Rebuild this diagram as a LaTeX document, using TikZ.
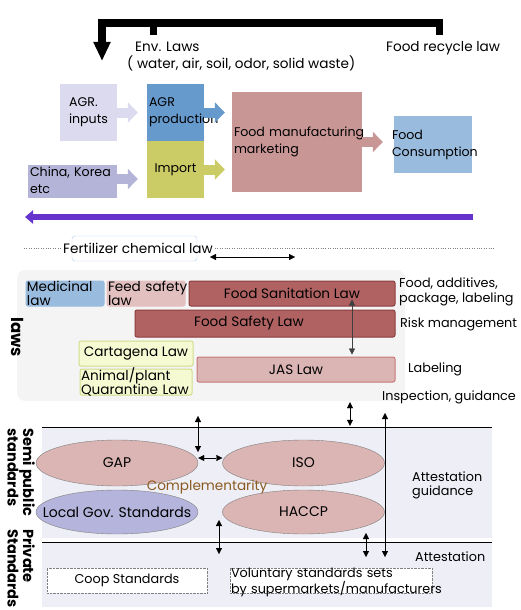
\documentclass[tikz,border=0pt]{standalone}
\usepackage{fontspec}
\setmainfont{Poppins}
\usetikzlibrary{arrows.meta,shapes.geometric}
\definecolor{inputcol}{HTML}{DCDAEE}
\definecolor{prodcol}{HTML}{6699CC}
\definecolor{importcol}{HTML}{CCCC66}
\definecolor{chinacol}{HTML}{B4B4D8}
\definecolor{mfgcol}{HTML}{C99696}
\definecolor{conscol}{HTML}{99BBDD}
\definecolor{backcol}{HTML}{6633CC}
\definecolor{fertline}{HTML}{B4CCE8}
\definecolor{lawbg}{HTML}{F4F4F4}
\definecolor{medcol}{HTML}{99BBDD}
\definecolor{feedcol}{HTML}{E2C0C0}
\definecolor{darklaw}{HTML}{B06262}
\definecolor{darkline}{HTML}{8C3C3C}
\definecolor{palelaw}{HTML}{DBB4B4}
\definecolor{paleline}{HTML}{C87878}
\definecolor{yellowfill}{HTML}{F6FAD2}
\definecolor{yellowline}{HTML}{D2DC8C}
\definecolor{stdbg}{HTML}{EEEEF6}
\definecolor{localcol}{HTML}{B4B4DC}
\definecolor{compcol}{HTML}{8B5A1E}
\begin{document}
\begin{tikzpicture}[x=1pt,y=-1pt,
    every node/.style={font=\fontsize{13.6}{17}\selectfont},
    txt/.style={inner sep=0pt,align=left},
    rlab/.style={txt,anchor=west,font=\fontsize{12.8}{14.5}\selectfont},
    flowbox/.style={rectangle,inner sep=2pt,align=left,minimum height=57pt,font=\fontsize{12.6}{17}\selectfont},
    flowarrow/.style={line width=10pt,-{Triangle[length=10pt,width=20pt]}},
    lawbox/.style={rectangle,rounded corners=2pt,line width=1pt,inner sep=1pt,minimum height=25pt,align=left},
    twoline/.style={font=\fontsize{13.6}{14}\selectfont,text height=9pt,text depth=14pt},
    stdell/.style={ellipse,draw=gray,fill=palelaw,minimum width=162pt,minimum height=46pt,inner sep=0pt,font=\fontsize{14}{17}\selectfont},
    privbox/.style={rectangle,draw=gray,densely dotted,fill=white,minimum height=25pt,inner sep=1pt,font=\fontsize{12.8}{13}\selectfont},
    side/.style={rotate=-90,anchor=north west,inner sep=0pt,align=left,font=\fontsize{14.6}{15.5}\selectfont\bfseries},
    dbl/.style={{Triangle[length=6pt,width=6pt]}-{Triangle[length=6pt,width=6pt]}}]
  \useasboundingbox (0,0) rectangle (520,610);
  \node[txt,anchor=west] (envlaws) at (127,57) {\hspace*{8pt}Env. Laws\\( water, air, soil, odor, solid waste)};
  \node[txt,anchor=west] (recycle) at (386,48) {Food recycle law};
  \coordinate (recyStub) at (439.5,35);
  \coordinate (envStub) at (153.5,35);
  \coordinate (barR) at (439.5,23);
  \coordinate (barL) at (102,23);
  \coordinate (inTip) at (102,61);
  \draw[line width=7.5pt,-{Triangle[length=19pt,width=16pt]}] (recyStub) -- (barR) -- (barL) -- (inTip);
  \draw[line width=7.5pt] (envStub) -- (envStub |- barL);

  \node[flowbox,fill=inputcol,minimum width=57pt] (agrin) at (88.5,112.5) {AGR.\\inputs};
  \node[flowbox,fill=prodcol,text width=53pt] (agrprod) at (175.5,112.5) {AGR\\\mbox{production}};
  \node[flowbox,fill=importcol,minimum width=57pt] (import) at (175.5,169.5) {Import};
  \node[flowbox,fill=chinacol,minimum height=33pt,text width=85pt,text height=9pt,text depth=20pt] (china) at (72.5,181.5) {\mbox{China, Korea}\\etc};
  \node[flowbox,fill=mfgcol,minimum height=100pt,text width=126pt] (mfg) at (297,142) {\mbox{Food manufacturing}\\marketing};
  \node[flowbox,fill=conscol,text width=82pt,inner xsep=-2pt] (cons) at (433,144.5) {Food\\\mbox{Consumption}};
  \draw[flowarrow,draw=inputcol,shorten >=9pt] (agrin) -- (agrprod);
  \draw[flowarrow,draw=prodcol,shorten >=7pt] (agrprod.east) -- (agrprod.east -| mfg.west);
  \draw[flowarrow,draw=importcol,shorten >=7pt] (import.east) -- (import.east -| mfg.west);
  \draw[flowarrow,draw=chinacol,shorten >=9pt] ([yshift=2.5pt]china.east) -- ([yshift=2.5pt]china.east -| import.west);
  \draw[flowarrow,draw=mfgcol,shorten >=11pt] (mfg.east) -- (mfg.east -| cons.west);
  \coordinate (backR) at (473,217);
  \coordinate (backL) at (25,217);
  \draw[line width=6pt,draw=backcol,-{Triangle[length=8pt,width=13pt]}] (backR) -- (backL);

  \node[rectangle,rounded corners=3pt,draw=fertline,fill=white,minimum width=125pt,minimum height=25pt] (fertbox) at (134.5,248.5) {};
  \node[txt,inner xsep=2pt] (fert) at (138,248) {Fertilizer chemical law};
  \draw[dotted,gray] (24,248) -- (fert.west);
  \draw[dotted,gray] (fert.east) -- (495,248);
  \coordinate (fertL) at (210,257);
  \coordinate (fertR) at (295,257);
  \draw[dbl] (fertL) -- (fertR);

  \node[rectangle,rounded corners=8pt,fill=lawbg,minimum width=388pt,minimum height=131pt] (lawsbg) at (211,335.5) {};
  \node[side,anchor=center,font=\fontsize{16.5}{16}\selectfont\bfseries] (lawslabel) at (18,337) {laws};
  \node[lawbox,twoline,fill=medcol,draw=medcol,text width=76pt] (medicinal) at (65,293.5) {Medicinal\\law};
  \node[lawbox,twoline,fill=feedcol,draw=feedcol,text width=76pt] (feed) at (146,293.5) {\mbox{Feed safety}\\law};
  \node[lawbox,fill=darklaw,draw=darkline,minimum width=206pt] (foodsan) at (292,293.5) {Food Sanitation Law};
  \node[lawbox,fill=darklaw,draw=darkline,minimum width=260pt,minimum height=27pt,
    label={[txt,xshift=-16pt]center:Food Safety Law}] (foodsafe) at (265,323.5) {};
  \node[lawbox,fill=palelaw,draw=paleline,minimum width=198pt] (jas) at (296,369.5) {JAS Law};
  \node[lawbox,fill=yellowfill,draw=yellowline,minimum width=114pt] (cartagena) at (136,353.5) {Cartagena Law};
  \node[lawbox,twoline,fill=yellowfill,draw=yellowline,text width=110pt,text height=10pt,text depth=14pt] (quarantine) at (136,382) {Animal/plant\\\mbox{Quarantine Law}};
  \coordinate (sanjas) at (352,0);
  \draw[dbl,draw=darkgray] ([yshift=7pt]foodsan.south -| sanjas) -- ([yshift=2pt]jas.north -| sanjas);
  \node[rlab] (foodlab) at (399,292) {Food, additives,\\package, labeling};
  \node[rlab] (risklab) at (400,324) {Risk management};
  \node[rlab] (labellab) at (408,369) {Labeling};
  \node[rlab] (insplab) at (382,397) {Inspection, guidance};

  \node[rectangle,fill=stdbg,minimum width=450pt,minimum height=111pt,inner sep=0pt] (semiband) at (267,482.5) {};
  \draw (semiband.north west) -- (semiband.north east);
  \node[rectangle,fill=stdbg,minimum width=450pt,minimum height=65pt,inner sep=0pt] (privband) at (267,574.5) {};
  \draw (privband.north west) -- (privband.north east);
  \node[side] (semilabel) at (35,428) {Semi public\\standards};
  \node[side] (privlabel) at (35,529) {Private\\Standards};

  \node[stdell] (gap) at (117,463) {GAP};
  \node[stdell] (iso) at (303.5,463) {ISO};
  \node[stdell,fill=localcol,minimum height=44pt,label={[txt,font=\fontsize{14}{17}\selectfont]center:Local Gov. Standards}] (localgov) at (117,512) {};
  \node[stdell,minimum height=44pt] (haccp) at (303.5,512) {HACCP};
  \node[txt,text=compcol] (comp) at (207,487) {Complementarity};
  \node[rlab] (attguide) at (412,485.5) {Attestation\\guidance};
  \node[rlab] (attest) at (415,557) {Attestation};
  \node[privbox,minimum width=160pt] (coop) at (127,580.5) {Coop Standards};
  \node[privbox,minimum width=202pt,text width=200pt,align=left,text height=8pt,text depth=15pt] (volun) at (331,580.5) {\mbox{Voluntary standards sets}\\\mbox{by supermarkets/manufacturers}};

  \coordinate (lawstd) at (350,0);
  \coordinate (inspA) at (385,413);
  \coordinate (inspB) at (385,557);
  \coordinate (gapA) at (198,416);
  \coordinate (gapB) at (198,452);
  \coordinate (haccpA) at (219,520);
  \coordinate (haccpB) at (219,554);
  \coordinate (volA) at (366,533);
  \coordinate (volB) at (366,557);
  \draw[dbl] ([yshift=-1pt]lawsbg.south -| lawstd) -- ([yshift=1pt]semiband.north -| lawstd);
  \draw[dbl] (inspA) -- (inspB);
  \draw[dbl] (gapA) -- (gapB);
  \draw[dbl] ([yshift=5pt]gap.east) -- ([yshift=5pt]iso.west);
  \draw[dbl] (haccpA) -- (haccpB);
  \draw[dbl] (volA) -- (volB);
\end{tikzpicture}
\end{document}
